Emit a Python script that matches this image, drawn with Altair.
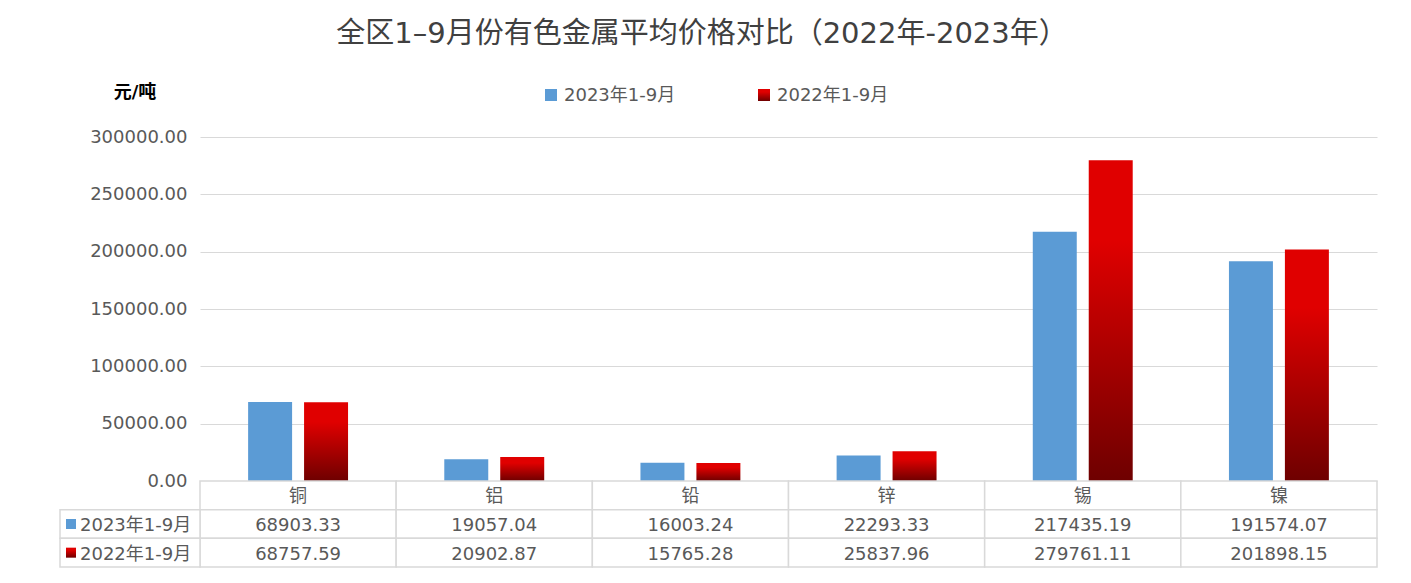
import altair as alt
import pandas as pd

# ---------------- data ----------------
categories = ["铜", "铝", "铅", "锌", "锡", "镍"]
series_names = ["2023年1-9月", "2022年1-9月"]
values_2023 = [68903.33, 19057.04, 16003.24, 22293.33, 217435.19, 191574.07]
values_2022 = [68757.59, 20902.87, 15765.28, 25837.96, 279761.11, 201898.15]
y_ticks = [0, 50000, 100000, 150000, 200000, 250000, 300000]
title_text = "全区1–9月份有色金属平均价格对比（2022年-2023年）"
unit_text = "元/吨"

# ---------------- style ----------------
W, H, TABLE_H = 1177, 344, 86
FONT = "DejaVu Sans, Noto Sans CJK SC"
GREY = "#595959"
GRID = "#d9d9d9"
BLUE = "#5b9bd5"
RED_GRAD = alt.Gradient(
    gradient="linear", x1=0, x2=0, y1=0, y2=1,
    stops=[
        alt.GradientStop(offset=0, color="#e00000"),
        alt.GradientStop(offset=0.25, color="#e00000"),
        alt.GradientStop(offset=1, color="#6e0000"),
    ],
)

bars_df = pd.DataFrame({
    "category": categories * 2,
    "series": [series_names[0]] * len(categories) + [series_names[1]] * len(categories),
    "value": values_2023 + values_2022,
})

x_enc = alt.X("category:N", scale=alt.Scale(domain=categories, paddingInner=0, paddingOuter=0), axis=None)
xoff_enc = alt.XOffset("series:N", scale=alt.Scale(domain=series_names, paddingInner=0.214, paddingOuter=0.86))
y_enc = alt.Y(
    "value:Q",
    scale=alt.Scale(domain=[0, 300000]),
    axis=alt.Axis(
        values=y_ticks, format=".2f", title=None, domain=False, ticks=False,
        labelFontSize=18, labelColor=GREY, labelPadding=13,
        gridColor=GRID, gridWidth=1.2,
    ),
)

base = alt.Chart(bars_df)
blue_bars = base.transform_filter(alt.datum.series == series_names[0]).mark_bar(color=BLUE).encode(
    x=x_enc, xOffset=xoff_enc, y=y_enc
)
red_bars = base.transform_filter(alt.datum.series == series_names[1]).mark_bar(color=RED_GRAD).encode(
    x=x_enc, xOffset=xoff_enc, y=y_enc
)

# legend (top)
leg1 = alt.Chart(pd.DataFrame({"series": [series_names[0]]}))
leg2 = alt.Chart(pd.DataFrame({"series": [series_names[1]]}))
leg_sq1 = leg1.mark_square(size=144, fill=BLUE, opacity=1).encode(x=alt.value(351), y=alt.value(-42))
leg_sq2 = leg2.mark_square(size=144, fill=RED_GRAD, opacity=1).encode(x=alt.value(564), y=alt.value(-42))
leg_tx1 = leg1.mark_text(align="left", baseline="middle", fontSize=18, color=GREY, dy=1).encode(
    x=alt.value(364), y=alt.value(-42), text="series:N")
leg_tx2 = leg2.mark_text(align="left", baseline="middle", fontSize=18, color=GREY, dy=1).encode(
    x=alt.value(577), y=alt.value(-42), text="series:N")

unit = alt.Chart(pd.DataFrame({"t": [unit_text]})).mark_text(
    align="center", baseline="middle", fontSize=18, fontWeight="bold", color="#000000"
).encode(x=alt.value(-65), y=alt.value(-44), text="t:N")

title = alt.Chart(pd.DataFrame({"t": [title_text]})).mark_text(
    align="center", baseline="middle", fontSize=29, color="#404040"
).encode(x=alt.value(502), y=alt.value(-103), text="t:N")

top = alt.layer(blue_bars, red_bars, leg_sq1, leg_sq2, leg_tx1, leg_tx2, unit, title).properties(width=W, height=H)

# ---------------- data table ----------------
rows = ["header"] + series_names
cells = []
for c in categories:
    cells.append({"category": c, "row": "header", "text": c})
for c, v in zip(categories, values_2023):
    cells.append({"category": c, "row": series_names[0], "text": f"{v:.2f}"})
for c, v in zip(categories, values_2022):
    cells.append({"category": c, "row": series_names[1], "text": f"{v:.2f}"})
cells_df = pd.DataFrame(cells)

x_tab = alt.X("category:N", scale=alt.Scale(domain=categories, paddingInner=0, paddingOuter=0), axis=None)
y_tab = alt.Y("row:N", scale=alt.Scale(domain=rows, paddingInner=0, paddingOuter=0), axis=None)

cell_rects = alt.Chart(cells_df).mark_rect(fill="white", stroke=GRID, strokeWidth=1.5).encode(x=x_tab, y=y_tab)
cell_text = alt.Chart(cells_df).mark_text(fontSize=18, color=GREY, baseline="middle", dy=2).encode(
    x=x_tab, y=y_tab, text="text:N")

hdr_df = pd.DataFrame({"row": series_names})
hdr_rects = alt.Chart(hdr_df).mark_rect(fill="white", stroke=GRID, strokeWidth=1.5).encode(
    x=alt.value(-140), x2=alt.value(0), y=y_tab)
hdr_sq1 = alt.Chart(pd.DataFrame({"row": [series_names[0]]})).mark_square(size=100, fill=BLUE, opacity=1).encode(
    x=alt.value(-129), y=y_tab)
hdr_sq2 = alt.Chart(pd.DataFrame({"row": [series_names[1]]})).mark_square(size=100, fill=RED_GRAD, opacity=1).encode(
    x=alt.value(-129), y=y_tab)
hdr_text = alt.Chart(hdr_df).mark_text(align="left", baseline="middle", fontSize=18, color=GREY, dy=2).encode(
    x=alt.value(-120), y=y_tab, text="row:N")

table = alt.layer(cell_rects, cell_text, hdr_rects, hdr_sq1, hdr_sq2, hdr_text).properties(width=W, height=TABLE_H)

chart = (
    alt.vconcat(top, table, spacing=0, bounds="flush")
    .resolve_scale(x="independent", y="independent", xOffset="independent")
    .properties(padding={"left": 51, "top": 12, "right": 5, "bottom": 5})
    .configure(font=FONT)
    .configure_view(stroke=None)
)

chart.save("out.html", embed_options={"renderer": "svg", "actions": False})
